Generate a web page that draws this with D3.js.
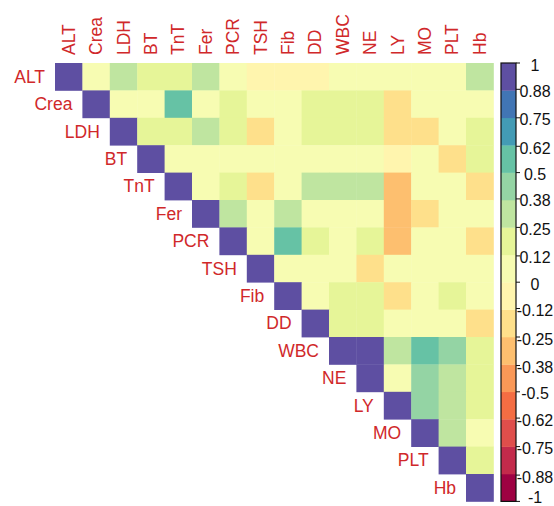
<!DOCTYPE html>
<html>
<head>
<meta charset="utf-8">
<script src="https://cdn.jsdelivr.net/npm/d3@7"></script>
<style>
  html, body { margin: 0; padding: 0; background: #fff; }
  svg { display: block; }
  text { font-family: "Liberation Sans", Arial, sans-serif; }
</style>
</head>
<body>
<svg id="chart" width="554" height="506"></svg>
<script>
// ---- Data ----
const variables = ["ALT","Crea","LDH","BT","TnT","Fer","PCR","TSH","Fib","DD","WBC","NE","LY","MO","PLT","Hb"];

// Upper-triangle correlations: each row lists values for the columns after the diagonal
const rowALT  = [0.05, 0.30, 0.18, 0.18, 0.30, 0.05, -0.05, -0.05, -0.05, 0.05, 0.05, 0.05, 0.05, 0.05, 0.30];
const rowCrea = [0.05, 0.05, 0.55, 0.05, 0.15, 0.05, 0.05, 0.18, 0.18, 0.18, -0.20, 0.05, 0.05, 0.05];
const rowLDH  = [0.15, 0.20, 0.30, 0.15, -0.20, 0.05, 0.18, 0.18, 0.18, -0.20, -0.20, 0.05, 0.15];
const rowBT   = [0.05, 0.05, 0.05, 0.05, 0.05, 0.05, 0.05, 0.05, -0.05, 0.05, -0.20, 0.15];
const rowTnT  = [0.05, 0.15, -0.20, 0.05, 0.28, 0.28, 0.28, -0.30, 0.05, 0.05, -0.15];
const rowFer  = [0.28, 0.05, 0.28, 0.05, 0.03, 0.05, -0.30, -0.20, 0.05, 0.05];
const rowPCR  = [0.05, 0.55, 0.15, 0.05, 0.15, -0.30, 0.05, 0.05, -0.20];
const rowTSH  = [0.05, 0.05, 0.05, -0.20, 0.05, 0.05, 0.05, 0.05];
const rowFib  = [0.05, 0.15, 0.15, -0.20, 0.05, 0.15, 0.05];
const rowDD   = [0.15, 0.15, 0.05, 0.05, 0.05, -0.20];
const rowWBC  = [0.95, 0.30, 0.55, 0.40, 0.15];
const rowNE   = [0.05, 0.40, 0.30, 0.15];
const rowLY   = [0.40, 0.30, 0.15];
const rowMO   = [0.30, 0.05];
const rowPLT  = [0.15];
const rowHb   = [];
const upperRows = [rowALT,rowCrea,rowLDH,rowBT,rowTnT,rowFer,rowPCR,rowTSH,rowFib,rowDD,rowWBC,rowNE,rowLY,rowMO,rowPLT,rowHb];

const legendLabels = ["1","0.88","0.75","0.62","0.5","0.38","0.25","0.12","0","-0.12","-0.25","-0.38","-0.5","-0.62","-0.75","-0.88","-1"];
const legendValues = legendLabels.map(Number);

// Spectral palette (style)
const spectral11 = ["#9E0142","#D53E4F","#F46D43","#FDAE61","#FEE08B","#FFFFBF","#E6F598","#ABDDA4","#66C2A5","#3288BD","#5E4FA2"];

// ---- Build cells ----
const cells = [];
upperRows.forEach((row, i) => {
  cells.push({r: variables[i], c: variables[i], v: 1});
  row.forEach((v, k) => cells.push({r: variables[i], c: variables[i + 1 + k], v}));
});

// ---- Layout ----
const gridLeft = 55, gridTop = 63, cellSize = 27.4;
const n = variables.length;
const svg = d3.select("#chart");

const x = d3.scaleBand().domain(variables).range([gridLeft, gridLeft + n * cellSize]);
const y = d3.scaleBand().domain(variables).range([gridTop, gridTop + n * cellSize]);

// 16-colour palette from the Spectral ramp
const nBins = 16;
const ramp = d3.scaleLinear()
  .domain(d3.range(spectral11.length).map(i => i / (spectral11.length - 1)))
  .range(spectral11)
  .interpolate(d3.interpolateRgb);
const palette = d3.range(nBins).map(k => ramp(k / (nBins - 1)));
const colorOf = d3.scaleQuantize().domain([-1, 1]).range(palette);

// ---- Cells ----
svg.append("g")
  .selectAll("rect")
  .data(cells)
  .join("rect")
  .attr("x", d => x(d.c))
  .attr("y", d => y(d.r))
  .attr("width", x.bandwidth() + 0.4)
  .attr("height", y.bandwidth() + 0.4)
  .attr("fill", d => colorOf(d.v));

// ---- Labels ----
const labelColor = "#d0282a";
svg.append("g")
  .selectAll("text")
  .data(variables)
  .join("text")
  .attr("x", d => x(d) - 10)
  .attr("y", d => y(d) + y.bandwidth() / 2)
  .attr("text-anchor", "end")
  .attr("dominant-baseline", "central")
  .attr("font-size", 17.5)
  .attr("fill", labelColor)
  .text(d => d);

svg.append("g")
  .selectAll("text")
  .data(variables)
  .join("text")
  .attr("transform", d => `translate(${x(d) + x.bandwidth() / 2},${gridTop - 8}) rotate(-90)`)
  .attr("text-anchor", "start")
  .attr("dominant-baseline", "central")
  .attr("font-size", 17.5)
  .attr("fill", labelColor)
  .text(d => d);

// ---- Colour legend ----
const barX = 501, barW = 15;
const ly = d3.scaleLinear().domain([1, -1]).range([gridTop, gridTop + n * cellSize]);
const bands = d3.range(nBins).map(k => ({lo: -1 + k * 2 / nBins, hi: -1 + (k + 1) * 2 / nBins, color: palette[k]}));

svg.append("g")
  .selectAll("rect")
  .data(bands)
  .join("rect")
  .attr("x", barX)
  .attr("y", d => ly(d.hi))
  .attr("width", barW)
  .attr("height", d => ly(d.lo) - ly(d.hi) + 0.3)
  .attr("fill", d => d.color);

svg.append("rect")
  .attr("x", barX)
  .attr("y", ly(1))
  .attr("width", barW)
  .attr("height", ly(-1) - ly(1))
  .attr("fill", "none")
  .attr("stroke", "#111")
  .attr("stroke-width", 1.2);

const tg = svg.append("g");
tg.selectAll("line")
  .data(legendValues)
  .join("line")
  .attr("x1", barX + barW)
  .attr("x2", barX + barW + 4)
  .attr("y1", d => ly(d))
  .attr("y2", d => ly(d))
  .attr("stroke", "#111")
  .attr("stroke-width", 1);

tg.selectAll("text")
  .data(legendValues)
  .join("text")
  .attr("x", 535)
  .attr("y", d => Math.min(ly(d) + 2, 497))
  .attr("text-anchor", "middle")
  .attr("dominant-baseline", "central")
  .attr("font-size", 16)
  .attr("fill", "#111")
  .text((d, i) => legendLabels[i]);
</script>
</body>
</html>
